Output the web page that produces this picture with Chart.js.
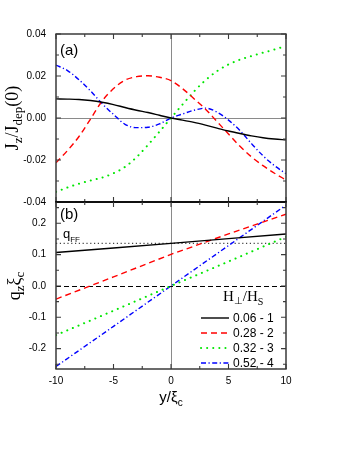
<!DOCTYPE html>
<html><head><meta charset="utf-8">
<script src="https://cdn.jsdelivr.net/npm/chart.js@4.4.0/dist/chart.umd.min.js"></script>
<style>
html,body{margin:0;padding:0;background:#fff;}
#wrap{position:relative;width:349px;height:451px;overflow:hidden;background:#fff;}
#wrap canvas{position:absolute;left:0;}
#ca{top:0;}
#cb{top:190px;}
</style></head><body>
<div id="wrap">
<canvas id="ca" width="349" height="215"></canvas>
<canvas id="cb" width="349" height="261"></canvas>
</div>
<script>
// ---------- data: panel (a) ----------
const yPos = [-10,-9,-8,-7,-6,-5,-4,-3,-2,-1,0,1,2,3,4,5,6,7,8,9,10];
const jz1 = [0.0091,0.0090,0.0088,0.0083,0.0075,0.0064,0.0050,0.0037,0.0026,0.0013,0.0,-0.0010,-0.0021,-0.0034,-0.0048,-0.0062,-0.0074,-0.0085,-0.0094,-0.0100,-0.0104];
const jz2 = [-0.0213,-0.0155,-0.0088,-0.0005,0.0080,0.0140,0.0180,0.0197,0.0201,0.0194,0.0178,0.0140,0.0092,0.0042,-0.0017,-0.0076,-0.0135,-0.0185,-0.0227,-0.0263,-0.0295];
const jz3 = [-0.0352,-0.0331,-0.0313,-0.0298,-0.0284,-0.0263,-0.0233,-0.0187,-0.0128,-0.0065,0.0,0.0064,0.0126,0.0180,0.0223,0.0255,0.0278,0.0295,0.0311,0.0326,0.0343];
const jz4 = [0.0252,0.0226,0.0182,0.0129,0.0069,0.0017,-0.0030,-0.0046,-0.0044,-0.0028,0.0,0.0019,0.0037,0.0047,0.0028,-0.0010,-0.0060,-0.0122,-0.0180,-0.0227,-0.0265];
// ---------- data: panel (b) ----------
const qPos = [-10,-5,0,5,10];
const qz1 = [0.107,0.121,0.136,0.151,0.166];
const qz2 = [-0.042,0.029,0.101,0.166,0.229];
const qz3 = [-0.157,-0.079,0.0,0.078,0.157];
const qz4 = [-0.257,-0.129,0.0,0.129,0.258];
const qffPos = [-10,10];
const qffVal = [0.136,0.136];
// ---------- labels / ticks ----------
const seriesLabels = ['0.06 - 1','0.28 - 2','0.32 - 3','0.52 - 4'];
const xTickVals = [-10,-5,0,5,10];
const xTickLabels = ['-10','-5','0','5','10'];
const xMinor = [-7.5,-2.5,2.5,7.5];
const aTickVals = [-0.04,-0.02,0,0.02,0.04];
const aTickLabels = ['-0.04','-0.02','0.00','0.02','0.04'];
const aMinor = [-0.03,-0.01,0.01,0.03];
const bTickVals = [-0.2,-0.1,0,0.1,0.2];
const bTickLabels = ['-0.2','-0.1','0.0','0.1','0.2'];
const bMinor = [-0.25,-0.15,-0.05,0.05,0.15,0.25];

const SANS = "'Liberation Sans', Arial, sans-serif";
const SERIF = "'Liberation Serif', 'Times New Roman', serif";

const styles = [
  {borderColor:'#000000', borderDash:[], borderWidth:1.4},
  {borderColor:'#ff0000', borderDash:[6,4], borderWidth:1.4},
  {borderColor:'#00e600', borderDash:[0.1,6], borderWidth:2, borderCapStyle:'round'},
  {borderColor:'#0000ff', borderDash:[5,2.5,1.2,2.5], borderWidth:1.4}
];

function pts(xs, ys){ return xs.map((x,i)=>({x:x, y:ys[i]})); }
function mkSets(xs, arrs, smooth){
  return arrs.map((a,i)=>Object.assign({
    label: seriesLabels[i], data: pts(xs,a), fill:false, pointRadius:0,
    cubicInterpolationMode: smooth ? 'monotone' : 'default', tension:0
  }, styles[i]));
}

function rich(ctx, parts, x, y, rot, align){
  ctx.save(); ctx.translate(x,y); ctx.rotate(rot||0);
  let w = 0;
  parts.forEach(p=>{ ctx.font = p.f; w += ctx.measureText(p.t).width; });
  let cx = align==='center' ? -w/2 : 0;
  ctx.textAlign='left'; ctx.textBaseline='alphabetic'; ctx.fillStyle='#000';
  parts.forEach(p=>{ ctx.font=p.f; ctx.fillText(p.t, cx, p.dy||0); cx += ctx.measureText(p.t).width; });
  ctx.restore();
}

const panelPlugin = {
  id:'panel',
  beforeDatasetsDraw(chart, args, o){
    const {ctx, chartArea:a, scales:{x,y}} = chart;
    ctx.save();
    ctx.lineWidth = 1;
    ctx.strokeStyle = '#8a8a8a';
    const x0 = Math.round(x.getPixelForValue(0))+0.5;
    ctx.beginPath(); ctx.moveTo(x0,a.top); ctx.lineTo(x0,a.bottom); ctx.stroke();
    const y0 = Math.round(y.getPixelForValue(0))+0.5;
    ctx.strokeStyle = o.zeroColor; ctx.setLineDash(o.zeroDash);
    ctx.lineWidth = o.zeroWidth;
    ctx.beginPath(); ctx.moveTo(a.left,y0); ctx.lineTo(a.right,y0); ctx.stroke();
    ctx.restore();
  },
  afterDatasetsDraw(chart, args, o){
    const {ctx, chartArea:a, scales:{x,y}} = chart;
    ctx.save();
    const fc = '#3a3a3a';
    ctx.lineWidth = 1.5; ctx.strokeStyle = fc;
    ctx.beginPath();
    ctx.moveTo(a.left,a.top); ctx.lineTo(a.left,a.bottom);
    ctx.moveTo(a.right,a.top); ctx.lineTo(a.right,a.bottom);
    ctx.stroke();
    ctx.strokeStyle = o.topDivider ? '#000' : fc; ctx.lineWidth = o.topDivider ? 1.7 : 1.5;
    ctx.beginPath(); ctx.moveTo(a.left-0.7,a.top); ctx.lineTo(a.right+0.7,a.top); ctx.stroke();
    ctx.strokeStyle = o.bottomDivider ? '#000' : fc; ctx.lineWidth = o.bottomDivider ? 1.7 : 1.5;
    ctx.beginPath(); ctx.moveTo(a.left-0.7,a.bottom); ctx.lineTo(a.right+0.7,a.bottom); ctx.stroke();
    ctx.strokeStyle = fc; ctx.lineWidth = 1.1;
    const MJ = 5, MN = 3;
    ctx.beginPath();
    const xt = (v,len)=>{ const p = x.getPixelForValue(v);
      ctx.moveTo(p,a.top); ctx.lineTo(p,a.top+len);
      ctx.moveTo(p,a.bottom); ctx.lineTo(p,a.bottom-len); };
    xTickVals.forEach(v=>xt(v,MJ)); xMinor.forEach(v=>xt(v,MN));
    const yt = (v,len)=>{ const p = y.getPixelForValue(v);
      ctx.moveTo(a.left,p); ctx.lineTo(a.left+len,p);
      ctx.moveTo(a.right,p); ctx.lineTo(a.right-len,p); };
    o.yMajor.forEach(v=>yt(v,MJ)); o.yMinor.forEach(v=>yt(v,MN));
    ctx.stroke();
    ctx.restore();
    if (o.texts) o.texts(chart);
  }
};

function yAxis(vals, labels, min, max){
  return {
    type:'linear', min:min, max:max,
    grid:{display:false, drawTicks:false}, border:{display:false},
    ticks:{padding:10, color:'#000', font:{family:SANS, size:10},
      callback:(v,i)=>labels[i]},
    afterBuildTicks:s=>{ s.ticks = vals.map(v=>({value:v})); },
    afterFit:s=>{ s.width = 56; s.paddingTop = 0; s.paddingBottom = 0; }
  };
}

// ---------- chart (a) ----------
new Chart(document.getElementById('ca'), {
  type:'line',
  data:{ datasets: mkSets(yPos, [jz1,jz2,jz3,jz4], true) },
  options:{
    responsive:false, animation:false, devicePixelRatio:1,
    layout:{padding:{top:34,left:0,right:63,bottom:13}},
    plugins:{legend:{display:false}, tooltip:{enabled:false},
      panel:{zeroColor:'#8a8a8a', zeroDash:[], zeroWidth:1, yMajor:aTickVals, yMinor:aMinor,
        topDivider:false, bottomDivider:true,
        texts:(chart)=>{
          const ctx = chart.ctx;
          ctx.save(); ctx.fillStyle='#000'; ctx.font='15px '+SANS; ctx.textBaseline='alphabetic';
          ctx.fillText('(a)', 60, 55); ctx.restore();
          rich(ctx, [
            {t:'J', f:'18px '+SERIF},
            {t:'z', f:'13px '+SERIF, dy:4},
            {t:'/J', f:'18px '+SERIF},
            {t:'dep', f:'13px '+SERIF, dy:4},
            {t:'(0)', f:'18px '+SERIF}
          ], 18, 118, -Math.PI/2, 'center');
        }}},
    scales:{
      x:{type:'linear', min:-10, max:10, display:false},
      y:yAxis(aTickVals, aTickLabels, -0.04, 0.04)
    }
  },
  plugins:[panelPlugin]
});

// ---------- chart (b) ----------
const OFF = 190;
const bSets = mkSets(qPos, [qz1,qz2,qz3,qz4], false);
bSets.push({label:'qFF', data:pts(qffPos,qffVal), borderColor:'#444', borderWidth:1.3,
  borderDash:[1.2,2.6], pointRadius:0, fill:false});
new Chart(document.getElementById('cb'), {
  type:'line',
  data:{ datasets: bSets },
  options:{
    responsive:false, animation:false, devicePixelRatio:1,
    layout:{padding:{top:12,left:0,right:63,bottom:0}},
    plugins:{legend:{display:false}, tooltip:{enabled:false},
      panel:{zeroColor:'#000', zeroDash:[5,3], zeroWidth:1.2, yMajor:bTickVals, yMinor:bMinor,
        topDivider:true, bottomDivider:false,
        texts:(chart)=>{
          const ctx = chart.ctx;
          ctx.save(); ctx.fillStyle='#000'; ctx.textBaseline='alphabetic';
          ctx.font='15px '+SANS; ctx.fillText('(b)', 60, 219-OFF);
          ctx.restore();
          rich(ctx, [{t:'q', f:'13px '+SANS},{t:'FF', f:'8px '+SANS, dy:4}], 63, 237.5-OFF, 0, 'left');
          rich(ctx, [
            {t:'q', f:'18px '+SERIF},
            {t:'z', f:'13px '+SERIF, dy:4},
            {t:'\u03BE', f:'18px '+SERIF},
            {t:'c', f:'13px '+SERIF, dy:4}
          ], 20, 286-OFF, -Math.PI/2, 'center');
          rich(ctx, [{t:'y/\u03BE', f:'15px '+SANS},{t:'c', f:'10px '+SANS, dy:4}], 171, 402-OFF, 0, 'center');
          rich(ctx, [
            {t:'H', f:'15px '+SERIF},
            {t:'\u22A5', f:'10px '+SERIF, dy:3},
            {t:'/H', f:'15px '+SERIF},
            {t:'S', f:'10px '+SERIF, dy:4}
          ], 223, 301-OFF, 0, 'left');
          const rowsY = [318,333,348,363];
          chart.data.datasets.slice(0,4).forEach((ds,i)=>{
            const yy = rowsY[i]-OFF;
            ctx.save();
            ctx.strokeStyle = ds.borderColor; ctx.lineWidth = ds.borderWidth;
            ctx.setLineDash(ds.borderDash||[]); ctx.lineCap = ds.borderCapStyle||'butt';
            ctx.beginPath(); ctx.moveTo(201,yy); ctx.lineTo(229,yy); ctx.stroke();
            ctx.restore();
            ctx.save(); ctx.fillStyle='#000'; ctx.font='12px '+SANS; ctx.textBaseline='middle';
            ctx.fillText(ds.label, 233, yy+0.5); ctx.restore();
          });
        }}},
    scales:{
      x:{type:'linear', min:-10, max:10,
        grid:{display:false, drawTicks:false}, border:{display:false},
        ticks:{padding:6, color:'#000', font:{family:SANS, size:10}, maxRotation:0,
          callback:(v,i)=>xTickLabels[i]},
        afterBuildTicks:s=>{ s.ticks = xTickVals.map(v=>({value:v})); },
        afterFit:s=>{ s.height = 82; s.paddingLeft = 0; s.paddingRight = 0; }
      },
      y:yAxis(bTickVals, bTickLabels, -0.265, 0.268)
    }
  },
  plugins:[panelPlugin]
});
</script>
</body></html>
